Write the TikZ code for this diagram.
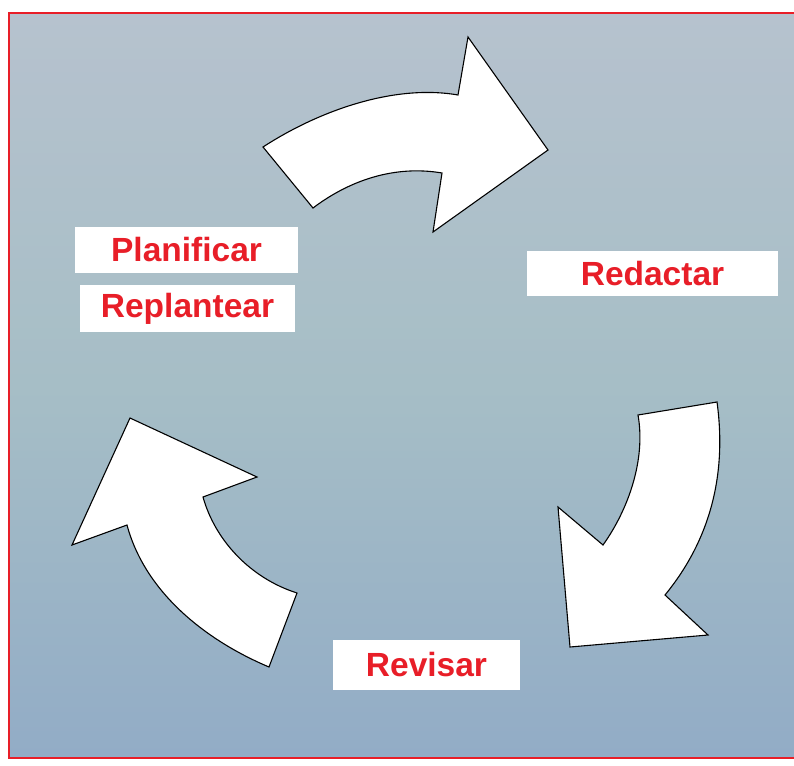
\documentclass[tikz,border=0pt]{standalone}
\usepackage{fontspec}
\setmainfont{Liberation Sans}
\usepackage{xcolor}
\usepackage{tikz}
\usetikzlibrary{positioning}

\definecolor{labelred}{RGB}{232,30,40}
\definecolor{skytop}{RGB}{182,194,206}
\definecolor{skymid}{RGB}{166,190,198}
\definecolor{skybot}{RGB}{146,172,198}

\tikzset{
  labelbox/.style={fill=white, text=labelred, inner sep=0pt,
    font=\fontsize{33.5}{38}\selectfont\bfseries},
  cyclearrow/.style={fill=white, draw=black, line width=1.1pt, line join=miter}
}

\begin{document}
\begin{tikzpicture}[x=1pt, y=-1pt]
  \useasboundingbox (0,0) rectangle (794,765);

  % Background
  \fill[white] (0,0) rectangle (794,765);
  \shade[top color=skytop, bottom color=skybot, middle color=skymid]
    (9,13) rectangle (800,758);
  \draw[labelred, line width=2pt] (800,13) -- (9,13) -- (9,758) -- (800,758);

  % Top arrow (towards Redactar)
  \coordinate (t1) at (263,147);
  \coordinate (t2) at (458,95);
  \coordinate (t3) at (468,37);
  \coordinate (t4) at (548,150);
  \coordinate (t5) at (433,232);
  \coordinate (t6) at (442,173);
  \coordinate (t7) at (313,208);
  \draw[cyclearrow] (t1) .. controls (320,110) and (395,84) .. (t2)
    -- (t3) -- (t4) -- (t5) -- (t6)
    .. controls (395,165) and (350,180) .. (t7) -- cycle;

  % Right arrow (towards Revisar)
  \coordinate (r1) at (638,415);
  \coordinate (r2) at (717,402);
  \coordinate (r3) at (665,595);
  \coordinate (r4) at (708,635);
  \coordinate (r5) at (570,647);
  \coordinate (r6) at (558,507);
  \coordinate (r7) at (603,545);
  \draw[cyclearrow] (r1) -- (r2)
    .. controls (727,475) and (710,540) .. (r3)
    -- (r4) -- (r5) -- (r6) -- (r7)
    .. controls (628,510) and (646,460) .. (r1) -- cycle;

  % Left arrow (towards Planificar)
  \coordinate (l1) at (130,418);
  \coordinate (l2) at (257,477);
  \coordinate (l3) at (203,497);
  \coordinate (l4) at (297,593);
  \coordinate (l5) at (269,667);
  \coordinate (l6) at (127,525);
  \coordinate (l7) at (72,545);
  \draw[cyclearrow] (l1) -- (l2) -- (l3)
    .. controls (215,540) and (250,578) .. (l4)
    -- (l5) .. controls (205,640) and (145,592) .. (l6)
    -- (l7) -- cycle;

  % Labels
  \node[labelbox, minimum width=223pt, minimum height=46pt] (plan) at (186.5,250) {Planificar};
  \node[labelbox, minimum width=215pt, minimum height=47pt] (replan) at (187.5,308.5) {Replantear};
  \node[labelbox, minimum width=251pt, minimum height=45pt] (redac) at (652.5,273.5) {Redactar};
  \node[labelbox, minimum width=187pt, minimum height=50pt] (revis) at (426.5,665) {Revisar};

\end{tikzpicture}
\end{document}
